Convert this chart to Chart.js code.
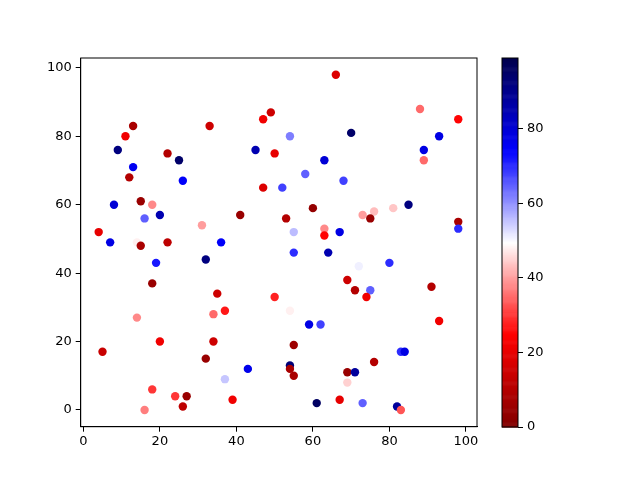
<!DOCTYPE html>
<html>
<head>
<meta charset="utf-8">
<script src="https://cdn.jsdelivr.net/npm/chart.js@4/dist/chart.umd.min.js"></script>
<style>
  body { margin: 0; background: #fff; }
  #wrap { position: relative; width: 640px; height: 480px; }
  canvas { position: absolute; left: 0; top: 0; }
</style>
</head>
<body>
<div id="wrap">
  <canvas id="scatter" width="640" height="480"></canvas>
  <canvas id="colorbar" width="640" height="480"></canvas>
</div>
<script>
const xValues = [4, 7, 8, 9, 11, 13, 13, 12, 15, 18, 16, 20, 22, 25, 26, 33, 31, 41, 36, 45,
  47, 49, 50, 47, 14, 15, 22, 66, 54, 70, 63, 58, 68, 52, 60, 53, 55, 63, 63, 67,
  73, 76, 75, 81, 85, 88, 98, 93, 89, 89, 98, 98, 19, 32, 18, 35, 50, 34, 37, 14,
  20, 34, 5, 32, 43, 37, 18, 24, 27, 26, 16, 39, 55, 64, 80, 72, 69, 71, 75, 74,
  91, 54, 93, 59, 62, 55, 83, 84, 76, 54, 54, 55, 69, 71, 69, 61, 67, 73, 82, 83];
const yValues = [52, 49, 60, 76, 80, 83, 71, 68, 61, 60, 56, 57, 75, 73, 67, 83, 54, 57, 49, 76,
  85, 87, 75, 65, 49, 48, 49, 98, 80, 81, 73, 69, 67, 65, 59, 56, 52, 53, 51, 52,
  57, 58, 56, 59, 60, 88, 85, 80, 76, 73, 55, 53, 43, 44, 37, 34, 33, 28, 29, 27,
  20, 20, 17, 15, 12, 9, 6, 4, 4, 1, 0, 3, 46, 46, 43, 42, 38, 35, 35, 33,
  36, 29, 26, 25, 25, 19, 17, 17, 14, 13, 12, 10, 11, 11, 8, 2, 3, 2, 1, 0];
const cValues = [20, 78, 80, 92, 22, 8, 76, 10, 5, 38, 65, 85, 10, 95, 75, 15, 40, 5, 75, 85,
  22, 15, 20, 18, 48, 8, 12, 18, 62, 95, 80, 65, 68, 68, 4, 10, 56, 38, 25, 78,
  40, 43, 5, 44, 92, 35, 25, 78, 78, 35, 8, 70, 72, 92, 5, 15, 28, 35, 27, 38,
  22, 15, 14, 5, 77, 55, 30, 30, 5, 12, 37, 22, 70, 85, 70, 51, 15, 10, 65, 22,
  10, 48, 22, 78, 68, 6, 70, 78, 10, 93, 8, 8, 5, 88, 45, 96, 20, 65, 88, 33];

const xTicks = [0, 20, 40, 60, 80, 100];
const yTicks = [0, 20, 40, 60, 80, 100];
const cTicks = [0, 20, 40, 60, 80];
const xRange = [-0.7, 102.9];
const yRange = [-4.9, 102.9];
const cRange = [0, 99];

// seismic, read backwards: dark red -> red -> white -> blue -> navy
const seismicStops = [[0, 0, 0.3], [0, 0, 1], [1, 1, 1], [1, 0, 0], [0.5, 0, 0]];
function seismicR(v) {
  let t = 1 - (v - cRange[0]) / (cRange[1] - cRange[0]);
  t = Math.min(1, Math.max(0, t)) * 4;
  const i = Math.min(3, Math.floor(t));
  const f = t - i;
  const a = seismicStops[i], b = seismicStops[i + 1];
  const rgb = a.map((c, k) => Math.round(255 * (c + (b[k] - c) * f)));
  return `rgb(${rgb[0]}, ${rgb[1]}, ${rgb[2]})`;
}

const tickFont = { family: 'DejaVu Sans', size: 13 };

const frame = {
  id: 'frame',
  afterDraw(chart) {
    const a = chart.chartArea;
    const ctx = chart.ctx;
    ctx.save();
    ctx.strokeStyle = '#000';
    ctx.lineWidth = 1;
    ctx.strokeRect(a.left, a.top, a.right - a.left, a.bottom - a.top);
    ctx.restore();
  }
};

const whiteBg = {
  id: 'whiteBg',
  beforeDraw(chart) {
    const ctx = chart.ctx;
    ctx.save();
    ctx.fillStyle = '#fff';
    ctx.fillRect(0, 0, chart.width, chart.height);
    ctx.restore();
  }
};

function fixedTicks(list) {
  return scale => { scale.ticks = list.map(v => ({ value: v })); };
}

const points = xValues.map((x, i) => ({ x, y: yValues[i] }));

new Chart(document.getElementById('scatter'), {
  type: 'scatter',
  data: {
    datasets: [{
      data: points,
      pointBackgroundColor: cValues.map(seismicR),
      pointBorderWidth: 0,
      pointRadius: 4.2,
      pointHoverRadius: 4.2
    }]
  },
  options: {
    responsive: false,
    animation: false,
    layout: { padding: { left: 0, top: 58, right: 163, bottom: 0 } },
    plugins: { legend: { display: false }, tooltip: { enabled: false } },
    scales: {
      x: {
        type: 'linear',
        min: xRange[0],
        max: xRange[1],
        afterBuildTicks: fixedTicks(xTicks),
        afterFit: s => { s.height = 53.3; },
        grid: { drawOnChartArea: false, tickLength: 5, tickColor: '#000' },
        border: { color: '#000' },
        ticks: { color: '#000', font: tickFont, padding: 2, maxRotation: 0 }
      },
      y: {
        type: 'linear',
        min: yRange[0],
        max: yRange[1],
        afterBuildTicks: fixedTicks(yTicks),
        afterFit: s => { s.width = 80.7; },
        grid: { drawOnChartArea: false, tickLength: 5, tickColor: '#000' },
        border: { color: '#000' },
        ticks: { color: '#000', font: tickFont, padding: 4 }
      }
    }
  },
  plugins: [whiteBg, frame]
});

const gradientFill = {
  id: 'gradientFill',
  beforeDatasetsDraw(chart) {
    const a = chart.chartArea;
    const y = chart.scales.y;
    const ctx = chart.ctx;
    ctx.save();
    for (let v = cRange[0]; v < cRange[1]; v += 0.25) {
      const top = y.getPixelForValue(v + 0.25);
      const bot = y.getPixelForValue(v);
      ctx.fillStyle = seismicR(v + 0.125);
      ctx.fillRect(a.left, top, a.right - a.left, bot - top + 0.6);
    }
    ctx.restore();
  }
};

new Chart(document.getElementById('colorbar'), {
  type: 'scatter',
  data: { datasets: [{ data: [] }] },
  options: {
    responsive: false,
    animation: false,
    layout: { padding: { left: 502, top: 58, right: 62, bottom: 53 } },
    plugins: { legend: { display: false }, tooltip: { enabled: false } },
    scales: {
      x: { display: false, min: 0, max: 1 },
      y: {
        type: 'linear',
        position: 'right',
        min: cRange[0],
        max: cRange[1],
        afterBuildTicks: fixedTicks(cTicks),
        afterFit: s => { s.width = 60; },
        grid: { drawOnChartArea: false, tickLength: 5, tickColor: '#000' },
        border: { display: false },
        ticks: { color: '#000', font: tickFont, padding: 4 }
      }
    }
  },
  plugins: [gradientFill, frame]
});
</script>
</body>
</html>
